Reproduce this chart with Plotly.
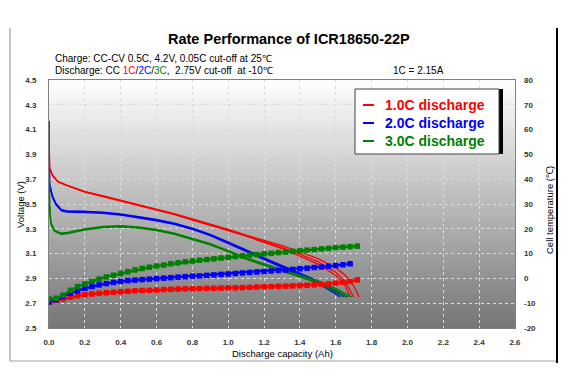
import plotly.graph_objects as go

# ---------------- data ----------------
# Voltage curves (three cells per rate): capacity (Ah) and voltage (V)
red_cap_a = [0, 0.003, 0.02, 0.05, 0.1, 0.15, 0.2, 0.3, 0.4, 0.5, 0.6, 0.7, 0.8, 0.9, 1.0, 1.1, 1.2, 1.3, 1.4, 1.5, 1.6, 1.65, 1.70, 1.73]
red_v_a = [4.17, 3.79, 3.73, 3.68, 3.65, 3.625, 3.60, 3.565, 3.53, 3.495, 3.46, 3.42, 3.38, 3.34, 3.295, 3.25, 3.21, 3.165, 3.115, 3.06, 2.985, 2.93, 2.84, 2.75]
red_cap_b = [0, 0.003, 0.02, 0.05, 0.1, 0.15, 0.2, 0.3, 0.4, 0.5, 0.6, 0.7, 0.8, 0.9, 1.0, 1.1, 1.2, 1.3, 1.4, 1.5, 1.6, 1.65, 1.70]
red_v_b = [4.17, 3.79, 3.73, 3.68, 3.65, 3.625, 3.60, 3.565, 3.53, 3.495, 3.46, 3.42, 3.375, 3.335, 3.29, 3.245, 3.20, 3.15, 3.095, 3.035, 2.95, 2.88, 2.75]
red_cap_c = [0, 0.003, 0.02, 0.05, 0.1, 0.15, 0.2, 0.3, 0.4, 0.5, 0.6, 0.7, 0.8, 0.9, 1.0, 1.1, 1.2, 1.3, 1.4, 1.5, 1.6, 1.65, 1.68]
red_v_c = [4.17, 3.79, 3.73, 3.68, 3.65, 3.62, 3.595, 3.56, 3.525, 3.49, 3.455, 3.415, 3.37, 3.33, 3.285, 3.24, 3.19, 3.14, 3.08, 3.015, 2.925, 2.85, 2.75]

blue_cap_a = [0, 0.003, 0.02, 0.04, 0.07, 0.1, 0.2, 0.3, 0.4, 0.5, 0.6, 0.7, 0.8, 0.9, 1.0, 1.1, 1.2, 1.3, 1.4, 1.5, 1.6, 1.665]
blue_v_a = [4.17, 3.66, 3.56, 3.50, 3.455, 3.445, 3.44, 3.435, 3.42, 3.40, 3.375, 3.345, 3.305, 3.255, 3.195, 3.13, 3.065, 3.005, 2.945, 2.88, 2.80, 2.75]
blue_cap_b = [0, 0.003, 0.02, 0.04, 0.07, 0.1, 0.2, 0.3, 0.4, 0.5, 0.6, 0.7, 0.8, 0.9, 1.0, 1.1, 1.2, 1.3, 1.4, 1.5, 1.6, 1.645]
blue_v_b = [4.17, 3.66, 3.56, 3.50, 3.45, 3.44, 3.44, 3.43, 3.415, 3.395, 3.37, 3.34, 3.30, 3.25, 3.19, 3.12, 3.055, 2.995, 2.935, 2.87, 2.79, 2.75]
blue_cap_c = [0, 0.003, 0.02, 0.04, 0.07, 0.1, 0.2, 0.3, 0.4, 0.5, 0.6, 0.7, 0.8, 0.9, 1.0, 1.1, 1.2, 1.3, 1.4, 1.5, 1.6, 1.625]
blue_v_c = [4.17, 3.65, 3.55, 3.49, 3.445, 3.435, 3.43, 3.425, 3.41, 3.39, 3.365, 3.335, 3.295, 3.245, 3.18, 3.115, 3.05, 2.985, 2.925, 2.86, 2.775, 2.75]

green_cap_a = [0, 0.003, 0.01, 0.03, 0.067, 0.1, 0.15, 0.2, 0.3, 0.4, 0.5, 0.6, 0.7, 0.8, 0.9, 1.0, 1.1, 1.2, 1.3, 1.4, 1.5, 1.6, 1.69]
green_v_a = [4.17, 3.50, 3.35, 3.29, 3.265, 3.27, 3.285, 3.30, 3.32, 3.325, 3.315, 3.295, 3.265, 3.225, 3.18, 3.125, 3.065, 3.02, 2.975, 2.93, 2.88, 2.82, 2.75]
green_cap_b = [0, 0.003, 0.01, 0.03, 0.067, 0.1, 0.15, 0.2, 0.3, 0.4, 0.5, 0.6, 0.7, 0.8, 0.9, 1.0, 1.1, 1.2, 1.3, 1.4, 1.5, 1.6, 1.67]
green_v_b = [4.17, 3.50, 3.35, 3.285, 3.26, 3.265, 3.28, 3.295, 3.315, 3.32, 3.31, 3.29, 3.26, 3.22, 3.175, 3.12, 3.06, 3.01, 2.965, 2.92, 2.87, 2.805, 2.75]
green_cap_c = [0, 0.003, 0.01, 0.03, 0.067, 0.1, 0.15, 0.2, 0.3, 0.4, 0.5, 0.6, 0.7, 0.8, 0.9, 1.0, 1.1, 1.2, 1.3, 1.4, 1.5, 1.6, 1.65]
green_v_c = [4.17, 3.49, 3.34, 3.28, 3.255, 3.26, 3.275, 3.29, 3.31, 3.315, 3.305, 3.285, 3.255, 3.215, 3.17, 3.115, 3.055, 3.005, 2.96, 2.91, 2.86, 2.79, 2.75]

# Cell temperature (deg C) vs capacity
red_t_cap = [0.00, 0.04, 0.08, 0.12, 0.16, 0.20, 0.24, 0.28, 0.32, 0.36, 0.40, 0.44, 0.48, 0.52, 0.56, 0.60, 0.64, 0.68, 0.72, 0.76, 0.80, 0.84,
             0.88, 0.92, 0.96, 1.00, 1.04, 1.08, 1.12, 1.16, 1.20, 1.24, 1.28, 1.32, 1.36, 1.40, 1.44, 1.48, 1.52, 1.56, 1.60, 1.64, 1.68, 1.72]
red_temp = [-9.6, -9.0, -8.3, -7.6, -7.0, -6.6, -6.3, -6.0, -5.8, -5.6, -5.4, -5.2, -5.0, -4.9, -4.8, -4.7, -4.5, -4.4, -4.3, -4.2, -4.2, -4.1,
            -4.0, -4.0, -3.9, -3.8, -3.8, -3.7, -3.6, -3.5, -3.4, -3.3, -3.2, -3.1, -3.0, -2.9, -2.8, -2.6, -2.4, -2.2, -1.9, -1.6, -1.2, -0.6]

blue_t_cap = [0.00, 0.04, 0.08, 0.12, 0.16, 0.20, 0.24, 0.28, 0.32, 0.36, 0.40, 0.44, 0.48, 0.52, 0.56, 0.60, 0.64, 0.68, 0.72, 0.76, 0.80, 0.84,
              0.88, 0.92, 0.96, 1.00, 1.04, 1.08, 1.12, 1.16, 1.20, 1.24, 1.28, 1.32, 1.36, 1.40, 1.44, 1.48, 1.52, 1.56, 1.60, 1.64, 1.68]
blue_temp = [-9.5, -8.6, -7.2, -6.0, -5.0, -4.0, -3.3, -2.6, -2.1, -1.6, -1.2, -0.9, -0.7, -0.5, -0.3, -0.1, 0.1, 0.3, 0.5, 0.7, 0.9, 1.0,
             1.2, 1.4, 1.6, 1.8, 2.0, 2.2, 2.4, 2.6, 2.8, 3.0, 3.2, 3.4, 3.6, 3.9, 4.1, 4.4, 4.6, 4.9, 5.2, 5.5, 5.9]

green_t_cap = [0.00, 0.04, 0.08, 0.12, 0.16, 0.20, 0.24, 0.28, 0.32, 0.36, 0.40, 0.44, 0.48, 0.52, 0.56, 0.60, 0.64, 0.68, 0.72, 0.76, 0.80, 0.84,
               0.88, 0.92, 0.96, 1.00, 1.04, 1.08, 1.12, 1.16, 1.20, 1.24, 1.28, 1.32, 1.36, 1.40, 1.44, 1.48, 1.52, 1.56, 1.60, 1.64, 1.68, 1.72]
green_temp = [-8.3, -8.0, -6.8, -4.8, -3.3, -2.2, -1.2, -0.3, 0.6, 1.3, 2.0, 2.7, 3.4, 4.0, 4.5, 5.0, 5.4, 5.9, 6.3, 6.7, 7.0, 7.3,
              7.6, 7.9, 8.2, 8.5, 8.8, 9.1, 9.4, 9.6, 9.9, 10.1, 10.4, 10.6, 10.9, 11.1, 11.4, 11.6, 11.9, 12.1, 12.4, 12.6, 12.8, 13.0]

series_names = ["1.0C discharge", "2.0C discharge", "3.0C discharge"]
x_ticks = [0.0, 0.2, 0.4, 0.6, 0.8, 1.0, 1.2, 1.4, 1.6, 1.8, 2.0, 2.2, 2.4, 2.6]
x_tick_labels = ["0.0", "0.2", "0.4", "0.6", "0.8", "1.0", "1.2", "1.4", "1.6", "1.8", "2.0", "2.2", "2.4", "2.6"]
v_ticks = [2.5, 2.7, 2.9, 3.1, 3.3, 3.5, 3.7, 3.9, 4.1, 4.3, 4.5]
v_tick_labels = ["2.5", "2.7", "2.9", "3.1", "3.3", "3.5", "3.7", "3.9", "4.1", "4.3", "4.5"]
t_ticks = [-20, -10, 0, 10, 20, 30, 40, 50, 60, 70, 80]
t_tick_labels = ["-20", "-10", "0", "10", "20", "30", "40", "50", "60", "70", "80"]

# ---------------- styling ----------------
RED, BLUE, GREEN = "#ff0000", "#0000ff", "#008000"
FONT = "Liberation Sans, Arial, sans-serif"

# plot area in pixels (for paper-coordinate conversions)
PL, PR, PT, PB = 49, 515, 80, 328
W, H = 569, 377


def px(xp):
    return (xp - PL) / (PR - PL)


def py(yp):
    return (PB - yp) / (PB - PT)


fig = go.Figure()

volt_sets = [
    (RED, [(red_cap_a, red_v_a), (red_cap_b, red_v_b), (red_cap_c, red_v_c)]),
    (BLUE, [(blue_cap_a, blue_v_a), (blue_cap_b, blue_v_b), (blue_cap_c, blue_v_c)]),
    (GREEN, [(green_cap_a, green_v_a), (green_cap_b, green_v_b), (green_cap_c, green_v_c)]),
]
for (color, cells), name in zip(volt_sets, series_names):
    for i, (cx, cv) in enumerate(cells):
        fig.add_trace(go.Scatter(x=cx, y=cv, mode="lines", name=name, legendgroup=name,
                                 line=dict(color=color, width=1.3), showlegend=False,
                                 xaxis="x", yaxis="y"))

temp_sets = [(RED, red_t_cap, red_temp), (BLUE, blue_t_cap, blue_temp), (GREEN, green_t_cap, green_temp)]
for (color, cx, ct), name in zip(temp_sets, series_names):
    fig.add_trace(go.Scatter(x=cx, y=ct, mode="lines+markers", name=name + " temperature",
                             line=dict(color=color, width=2.2),
                             marker=dict(symbol="square", size=5.5, color=color),
                             showlegend=False, xaxis="x", yaxis="y2"))

# gradient background of the plot area
shapes = []
N = 80
top_c, bot_c = 255, 118
for i in range(N):
    f = (i + 0.5) / N
    g = int(round(top_c + (bot_c - top_c) * f))
    shapes.append(dict(type="rect", xref="x domain", yref="y domain",
                       x0=0, x1=1, y0=1 - (i + 1) / N, y1=1 - i / N + 0.002,
                       fillcolor=f"rgb({g},{g},{g})", line=dict(width=0), layer="below"))

# outer frame
shapes.append(dict(type="line", xref="paper", yref="paper", x0=px(10), x1=px(10), y0=py(28), y1=py(361),
                   line=dict(color="#8a8a8a", width=1)))
shapes.append(dict(type="line", xref="paper", yref="paper", x0=px(10), x1=px(557), y0=py(361), y1=py(361),
                   line=dict(color="#a0a0a0", width=1)))
shapes.append(dict(type="line", xref="paper", yref="paper", x0=px(557), x1=px(557), y0=py(28), y1=py(363),
                   line=dict(color="#000000", width=2)))

# legend box
LX0, LX1, LY0, LY1 = 355, 503, 89, 154
shapes.append(dict(type="rect", xref="paper", yref="paper", x0=px(LX0), x1=px(LX1), y0=py(LY1), y1=py(LY0),
                   fillcolor="#000000", line=dict(width=0)))
shapes.append(dict(type="rect", xref="paper", yref="paper", x0=px(LX0), x1=px(LX1 - 4), y0=py(LY1), y1=py(LY0),
                   fillcolor="#ffffff", line=dict(color="#404040", width=1)))
annotations = []
for k, (name, color) in enumerate(zip(series_names, [RED, BLUE, GREEN])):
    yrow = 105 + 18 * k
    shapes.append(dict(type="line", xref="paper", yref="paper", x0=px(363), x1=px(374), y0=py(yrow), y1=py(yrow),
                       line=dict(color=color, width=2)))
    annotations.append(dict(xref="paper", yref="paper", x=px(383), y=py(yrow), xanchor="left", yanchor="middle",
                            text=f"<b>{name}</b>", showarrow=False,
                            font=dict(family=FONT, size=14, color=color)))

# titles and notes
annotations += [
    dict(xref="paper", yref="paper", x=px(289), y=py(39), xanchor="center", yanchor="middle", showarrow=False,
         text="<b>Rate Performance of ICR18650-22P</b>", font=dict(family=FONT, size=14.5, color="#000000")),
    dict(xref="paper", yref="paper", x=px(53), y=py(59), xanchor="left", yanchor="middle", showarrow=False,
         text="Charge: CC-CV 0.5C, 4.2V, 0.05C cut-off at 25℃", font=dict(family=FONT, size=10, color="#000000")),
    dict(xref="paper", yref="paper", x=px(53), y=py(71), xanchor="left", yanchor="middle", showarrow=False,
         text=("Discharge: CC <span style='color:#ff0000'>1C</span>/<span style='color:#0000ff'>2C</span>/"
               "<span style='color:#008000'>3C</span>,  2.75V cut-off  at -10℃"),
         font=dict(family=FONT, size=10, color="#000000")),
    dict(xref="paper", yref="paper", x=px(391), y=py(71), xanchor="left", yanchor="middle", showarrow=False,
         text="1C = 2.15A", font=dict(family=FONT, size=10, color="#000000")),
    dict(xref="paper", yref="paper", x=px(20), y=py(205), xanchor="center", yanchor="middle", showarrow=False,
         textangle=-90, text="Voltage (V)", font=dict(family=FONT, size=9.5, color="#000000")),
    dict(xref="paper", yref="paper", x=px(549), y=py(210), xanchor="center", yanchor="middle", showarrow=False,
         textangle=-90, text="Cell temperature (℃)", font=dict(family=FONT, size=9.5, color="#000000")),
    dict(xref="paper", yref="paper", x=px(282), y=py(353), xanchor="center", yanchor="middle", showarrow=False,
         text="Discharge capacity (Ah)", font=dict(family=FONT, size=9.5, color="#000000")),
]

tickfont = dict(family=FONT, size=8, color="#333333", weight="bold")
grid = dict(showgrid=True, gridcolor="#dcdcdc", griddash="dot", gridwidth=1)

fig.update_layout(
    width=W, height=H,
    margin=dict(l=PL, r=W - PR, t=PT, b=H - PB, pad=0, autoexpand=False),
    paper_bgcolor="#ffffff", plot_bgcolor="#b0b0b0",
    showlegend=False,
    shapes=shapes, annotations=annotations,
    xaxis=dict(range=[0, 2.6], tickvals=x_ticks, ticktext=x_tick_labels, tickfont=tickfont,
               showline=True, linecolor="#808080", linewidth=1, mirror=True, zeroline=False,
               ticks="", ticklabelstandoff=6, automargin=False, **grid),
    yaxis=dict(range=[2.5, 4.5], tickvals=v_ticks, ticktext=v_tick_labels, tickfont=tickfont,
               showline=True, linecolor="#808080", linewidth=1, mirror=True, zeroline=False,
               ticks="", ticklabelstandoff=10, automargin=False, **grid),
    yaxis2=dict(range=[-20, 80], tickvals=t_ticks, ticktext=t_tick_labels, tickfont=tickfont,
                overlaying="y", side="right", showgrid=False, zeroline=False, showline=False,
                ticks="", ticklabelstandoff=8, automargin=False),
)

fig.write_html("out.html", config={"displayModeBar": False},
               post_script="document.body.style.margin='0px';document.body.style.overflow='hidden';")
